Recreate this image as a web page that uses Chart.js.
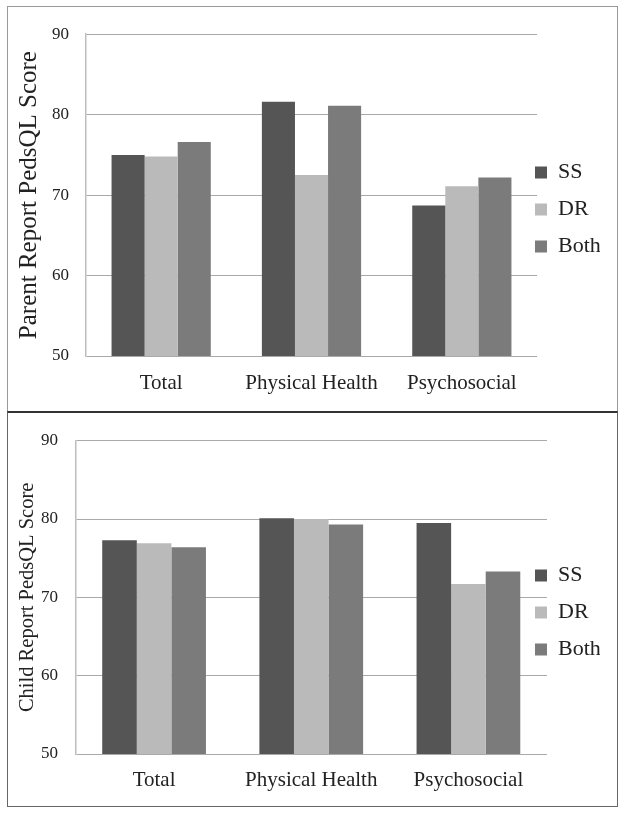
<!DOCTYPE html>
<html>
<head>
<meta charset="utf-8">
<script src="https://cdn.jsdelivr.net/npm/chart.js@4.4.0/dist/chart.umd.min.js"></script>
<style>
  body { margin: 0; background: #fff; width: 624px; height: 814px; position: relative; overflow: hidden; }
  .panel { position: absolute; box-sizing: border-box; }
  #p1 { left: 7px; top: 6px; width: 611px; height: 406px; border: 1px solid #9a9a9a; border-bottom: none; }
  #p2 { left: 7px; top: 411px; width: 611px; height: 396px; border: 1px solid #666; border-top: 2px solid #333; }
  canvas { display: block; }
</style>
</head>
<body>
<div class="panel" id="p1"><canvas id="parentChart" width="609" height="405"></canvas></div>
<div class="panel" id="p2"><canvas id="childChart" width="609" height="393"></canvas></div>
<script>
var categories = ['Total', 'Physical Health', 'Psychosocial'];
var groups = ['SS', 'DR', 'Both'];
var colors = ['#555555', '#bababa', '#7b7b7b'];
var yTicks = [50, 60, 70, 80, 90];

// parent report
var parentSS = [75.0, 81.6, 68.7];
var parentDR = [74.8, 72.5, 71.1];
var parentBoth = [76.6, 81.1, 72.2];

// child report
var childSS = [77.3, 80.1, 79.5];
var childDR = [76.9, 80.0, 71.7];
var childBoth = [76.4, 79.3, 73.3];

var serif = '"Liberation Serif", "DejaVu Serif", serif';

// nudges the legend so it sits where the original had it
var legendShift = {
  id: 'legendShift',
  afterLayout: function (chart, args, opts) {
    var lg = chart.legend;
    if (!lg) return;
    lg.left += opts.dx; lg.right += opts.dx;
    lg.top += opts.dy; lg.bottom += opts.dy;
  }
};

function makeChart(id, title, series, s) {
  var datasets = [];
  for (var i = 0; i < groups.length; i++) {
    datasets.push({
      label: groups[i],
      data: series[i],
      backgroundColor: colors[i],
      borderWidth: 0,
      categoryPercentage: 0.66,
      barPercentage: 1.0
    });
  }
  return new Chart(document.getElementById(id), {
    type: 'bar',
    data: { labels: categories, datasets: datasets },
    plugins: [legendShift],
    options: {
      responsive: false,
      animation: false,
      layout: { padding: { left: s.padL, right: s.padR, top: s.padT, bottom: s.padB } },
      scales: {
        x: {
          grid: { display: false, drawTicks: false },
          border: { display: false },
          ticks: { color: '#222', padding: s.xPad, maxRotation: 0, autoSkip: false,
                   font: { family: serif, size: 21 } }
        },
        y: {
          min: 50, max: 90,
          afterBuildTicks: function (axis) { axis.ticks = yTicks.map(function (v) { return { value: v }; }); },
          afterFit: function (axis) { axis.width = s.yWidth; },
          grid: { color: '#a9a9a9', lineWidth: 1, drawTicks: false },
          border: { display: true, color: '#bdbdbd', width: 1.5 },
          ticks: { color: '#222', padding: s.yPad, font: { family: serif, size: 17 } },
          title: { display: true, text: title, color: '#222',
                   padding: { top: s.titleTop, bottom: 0 },
                   font: { family: serif, size: s.titleSize } }
        }
      },
      plugins: {
        tooltip: { enabled: false },
        legend: {
          position: 'right',
          align: 'center',
          maxWidth: 80,
          labels: { color: '#222', boxWidth: 12, boxHeight: 12, padding: 15,
                    font: { family: serif, size: 22 } }
        },
        legendShift: { dx: s.dx, dy: s.dy }
      }
    }
  });
}

makeChart('parentChart', 'Parent Report PedsQL Score', [parentSS, parentDR, parentBoth],
  { padL: 4, padR: 0, padT: 27, padB: 2, xPad: 14.4, yWidth: 74, yPad: 17, titleTop: 2, titleSize: 25,
    dx: -17, dy: -12.5 });

makeChart('childChart', 'Child Report PedsQL Score', [childSS, childDR, childBoth],
  { padL: 3, padR: -10, padT: 26, padB: 0, xPad: 13.4, yWidth: 64.5, yPad: 17.5, titleTop: 4, titleSize: 20.5,
    dx: -27, dy: -10 });
</script>
</body>
</html>
